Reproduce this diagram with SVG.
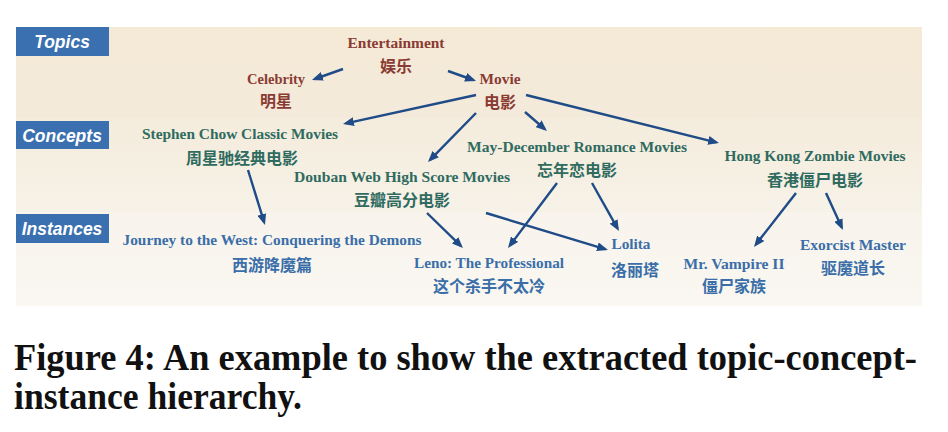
<svg xmlns="http://www.w3.org/2000/svg" width="948" height="432" viewBox="0 0 948 432">
<defs>
<linearGradient id="gTop" x1="0" y1="0" x2="0" y2="1"><stop offset="0" stop-color="#f5ead6"/><stop offset="1" stop-color="#f4eadb"/></linearGradient>
<linearGradient id="gMid" x1="0" y1="0" x2="0" y2="1"><stop offset="0" stop-color="#f4ecdc"/><stop offset="1" stop-color="#f7f2e8"/></linearGradient>
<linearGradient id="gBot" x1="0" y1="0" x2="0" y2="1"><stop offset="0" stop-color="#f8f4ec"/><stop offset="1" stop-color="#faf7f2"/></linearGradient>
<marker id="ah" viewBox="0 0 11 9" refX="8" refY="4.5" markerWidth="11" markerHeight="9" markerUnits="userSpaceOnUse" orient="auto">
<path d="M0,0 L11,4.5 L0,9 z" fill="#1f4b87"/>
</marker>
<style>
.band-label{fill:#3a6fb0}
.lt{font-family:"Liberation Sans",Arial,sans-serif;font-weight:bold;font-style:italic;font-size:17.5px;fill:#ffffff;text-anchor:middle}
.en{font-family:"Liberation Serif","Times New Roman",serif;font-weight:bold;font-size:14.5px;text-anchor:middle}
.zh{font-family:"Liberation Serif","Noto Sans CJK SC",serif;font-weight:bold;font-size:16px;text-anchor:middle}
.topic{fill:#8a3b33}
.concept{fill:#2f6b5f}
.inst{fill:#3a6ea8}
.edge{stroke:#1f4b87;stroke-width:2.4;fill:none;marker-end:url(#ah)}
.cap{font-family:"Liberation Serif","Times New Roman",serif;font-weight:bold;font-size:37px;fill:#111111}
</style>
</defs>
<rect x="0" y="0" width="948" height="432" fill="#ffffff"/>
<g id="bands">
<rect x="16" y="27" width="906" height="91" fill="url(#gTop)"/>
<rect x="16" y="118" width="906" height="94" fill="url(#gMid)"/>
<rect x="16" y="212" width="906" height="94" fill="url(#gBot)"/>
</g>
<g id="label-topics"><rect class="band-label" x="16" y="27" width="93" height="29"/><text class="lt" x="62" y="48">Topics</text></g>
<g id="label-concepts"><rect class="band-label" x="16" y="121" width="93" height="28"/><text class="lt" x="62" y="142">Concepts</text></g>
<g id="label-instances"><rect class="band-label" x="16" y="214" width="93" height="29"/><text class="lt" x="62" y="235">Instances</text></g>

<g id="connectors">
<line class="edge" x1="343" y1="69" x2="314.8" y2="79"/>
<line class="edge" x1="448" y1="71" x2="473.2" y2="80"/>
<line class="edge" x1="476" y1="95" x2="345.9" y2="123.4"/>
<line class="edge" x1="476" y1="113" x2="430.1" y2="159.9"/>
<line class="edge" x1="525" y1="112" x2="544.7" y2="129"/>
<line class="edge" x1="526" y1="95" x2="716.1" y2="142.3"/>
<line class="edge" x1="248" y1="170" x2="264.1" y2="222.1"/>
<line class="edge" x1="427" y1="213" x2="460.8" y2="245.9"/>
<line class="edge" x1="486" y1="213" x2="605.1" y2="249.1"/>
<line class="edge" x1="557" y1="183" x2="509.8" y2="245.6"/>
<line class="edge" x1="592" y1="183" x2="617.5" y2="228.4"/>
<line class="edge" x1="796" y1="193" x2="755.8" y2="244.6"/>
<line class="edge" x1="826" y1="193" x2="841.7" y2="227.3"/>
</g>

<g id="n-entertainment"><text class="en topic" x="396" y="48" textLength="97" lengthAdjust="spacingAndGlyphs">Entertainment</text><text class="zh topic" x="396" y="72">娱乐</text></g>
<g id="n-celebrity"><text class="en topic" x="276" y="84" textLength="58" lengthAdjust="spacingAndGlyphs">Celebrity</text><text class="zh topic" x="276" y="107">明星</text></g>
<g id="n-movie"><text class="en topic" x="500" y="84" textLength="41" lengthAdjust="spacingAndGlyphs">Movie</text><text class="zh topic" x="500" y="108">电影</text></g>

<g id="n-stephen"><text class="en concept" x="240" y="139" textLength="196" lengthAdjust="spacingAndGlyphs">Stephen Chow Classic Movies</text><text class="zh concept" x="242" y="164">周星驰经典电影</text></g>
<g id="n-maydec"><text class="en concept" x="577" y="152" textLength="220" lengthAdjust="spacingAndGlyphs">May-December Romance Movies</text><text class="zh concept" x="577" y="176">忘年恋电影</text></g>
<g id="n-hongkong"><text class="en concept" x="815" y="161" textLength="181" lengthAdjust="spacingAndGlyphs">Hong Kong Zombie Movies</text><text class="zh concept" x="815" y="186">香港僵尸电影</text></g>
<g id="n-douban"><text class="en concept" x="402" y="182" textLength="216" lengthAdjust="spacingAndGlyphs">Douban Web High Score Movies</text><text class="zh concept" x="402" y="206">豆瓣高分电影</text></g>

<g id="n-journey"><text class="en inst" x="272" y="245" textLength="299" lengthAdjust="spacingAndGlyphs">Journey to the West: Conquering the Demons</text><text class="zh inst" x="272" y="271">西游降魔篇</text></g>
<g id="n-leno"><text class="en inst" x="489" y="268" textLength="150" lengthAdjust="spacingAndGlyphs">Leno: The Professional</text><text class="zh inst" x="489" y="292">这个杀手不太冷</text></g>
<g id="n-lolita"><text class="en inst" x="631" y="249" textLength="39" lengthAdjust="spacingAndGlyphs">Lolita</text><text class="zh inst" x="635" y="276">洛丽塔</text></g>
<g id="n-vampire"><text class="en inst" x="734" y="269" textLength="101" lengthAdjust="spacingAndGlyphs">Mr. Vampire II</text><text class="zh inst" x="734" y="292">僵尸家族</text></g>
<g id="n-exorcist"><text class="en inst" x="853" y="250" textLength="106" lengthAdjust="spacingAndGlyphs">Exorcist Master</text><text class="zh inst" x="853" y="274">驱魔道长</text></g>

<g id="caption">
<text class="cap" x="14" y="370" textLength="903" lengthAdjust="spacingAndGlyphs">Figure 4: An example to show the extracted topic-concept-</text>
<text class="cap" x="14" y="409" textLength="288" lengthAdjust="spacingAndGlyphs">instance hierarchy.</text>
</g>
</svg>
